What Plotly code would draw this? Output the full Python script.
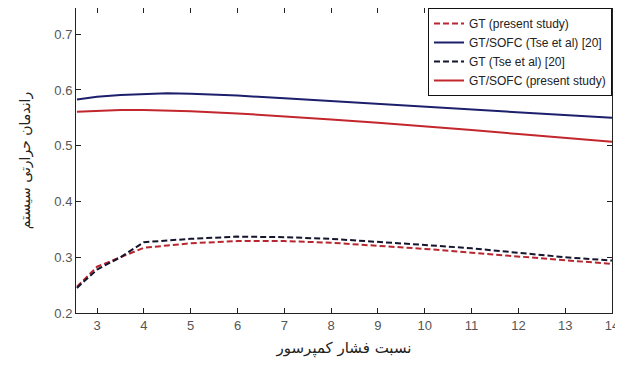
import plotly.graph_objects as go

x = [2.57, 3, 3.5, 4, 4.5, 5, 6, 7, 8, 9, 10, 11, 12, 13, 14]
gt_present = [0.247, 0.283, 0.300, 0.317, 0.321, 0.325, 0.329, 0.329, 0.326, 0.321, 0.315, 0.308, 0.301, 0.294, 0.288]
sofc_tse = [0.583, 0.588, 0.591, 0.593, 0.594, 0.593, 0.590, 0.585, 0.580, 0.575, 0.570, 0.566, 0.561, 0.556, 0.550]
gt_tse = [0.245, 0.278, 0.300, 0.327, 0.330, 0.333, 0.337, 0.336, 0.333, 0.328, 0.322, 0.316, 0.308, 0.300, 0.294]
sofc_present = [0.561, 0.563, 0.564, 0.564, 0.563, 0.562, 0.558, 0.553, 0.547, 0.541, 0.535, 0.528, 0.521, 0.514, 0.507]

names = ["GT (present study)", "GT/SOFC (Tse et al) [20]", "GT (Tse et al) [20]", "GT/SOFC (present study)"]
series = [gt_present, sofc_tse, gt_tse, sofc_present]
colors = ["#b8272f", "#1c1f6b", "#15152e", "#c3262c"]
dashes = ["6px,3px", "solid", "6px,3px", "solid"]

fig = go.Figure()
for n, s, c, d in zip(names, series, colors, dashes):
    fig.add_trace(go.Scatter(x=x, y=s, mode="lines", name=n,
                             line=dict(color=c, width=2, dash=d)))

axis_common = dict(showline=True, linecolor="#222", linewidth=1, mirror="ticks",
                   ticks="inside", ticklen=5, tickcolor="#222", showgrid=False,
                   zeroline=False, automargin=False,
                   tickfont=dict(family="Liberation Sans", size=13, color="#555"))
fig.update_xaxes(range=[2.55, 14], tickvals=list(range(3, 15)),
                 ticklabeloverflow="allow",
                 title=dict(text="نسبت فشار کمپرسور", font=dict(family="DejaVu Sans", size=15, color="#222"), standoff=10),
                 **axis_common)
fig.update_yaxes(range=[0.2, 0.747], tickvals=[0.2, 0.3, 0.4, 0.5, 0.6, 0.7],
                 tickformat=".1f",
                 title=dict(text="راندمان حرارتی سیستم", font=dict(family="DejaVu Sans", size=14, color="#222"), standoff=20),
                 **axis_common)
# page body has an 8px margin; compensate so the figure sits like the reference
fig.update_layout(
    width=615, height=351,
    margin=dict(l=68, r=11, t=0, b=46),
    plot_bgcolor="white", paper_bgcolor="white",
    legend=dict(x=1, y=1, xanchor="right", yanchor="top", bgcolor="white",
                bordercolor="#111", borderwidth=1,
                font=dict(family="Liberation Sans", size=12, color="#222"),
                tracegroupgap=0),
)
fig.write_html("out.html")
